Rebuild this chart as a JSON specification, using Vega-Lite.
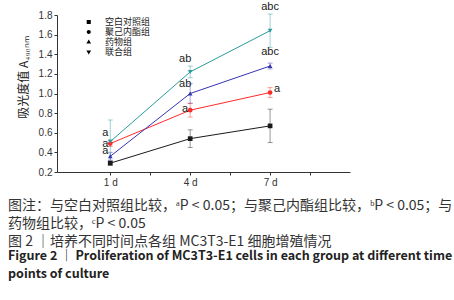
{
  "$schema": "https://vega.github.io/schema/vega-lite/v6.json",
  "width": 293,
  "height": 157,
  "autosize": {"type": "none"},
  "padding": {"left": 57, "top": 15, "right": 104, "bottom": 128},
  "background": "white",
  "datasets": {
    "main": [
      {"group": "空白对照组", "day": 1, "mean": 0.29, "sd": 0.02},
      {"group": "空白对照组", "day": 4, "mean": 0.54, "sd": 0.09},
      {"group": "空白对照组", "day": 7, "mean": 0.67, "sd": 0.17},
      {"group": "聚己内酯组", "day": 1, "mean": 0.49, "sd": 0.03},
      {"group": "聚己内酯组", "day": 4, "mean": 0.83, "sd": 0.07},
      {"group": "聚己内酯组", "day": 7, "mean": 1.01, "sd": 0.05},
      {"group": "药物组", "day": 1, "mean": 0.36, "sd": 0.04},
      {"group": "药物组", "day": 4, "mean": 1.0, "sd": 0.1},
      {"group": "药物组", "day": 7, "mean": 1.28, "sd": 0.03},
      {"group": "联合组", "day": 1, "mean": 0.51, "sd": 0.22},
      {"group": "联合组", "day": 4, "mean": 1.22, "sd": 0.06},
      {"group": "联合组", "day": 7, "mean": 1.64, "sd": 0.17}
    ],
    "labels": [
      {"group": "联合组", "day": 1, "pos": 0.6, "label": "a", "side": "left"},
      {"group": "聚己内酯组", "day": 1, "pos": 0.49, "label": "a", "side": "left"},
      {"group": "药物组", "day": 1, "pos": 0.41, "label": "a", "side": "left"},
      {"group": "联合组", "day": 4, "pos": 1.35, "label": "ab", "side": "left"},
      {"group": "药物组", "day": 4, "pos": 1.1, "label": "ab", "side": "left"},
      {"group": "聚己内酯组", "day": 4, "pos": 0.84, "label": "a", "side": "left"},
      {"group": "联合组", "day": 7, "pos": 1.885, "label": "abc", "side": "center"},
      {"group": "药物组", "day": 7, "pos": 1.42, "label": "abc", "side": "center"},
      {"group": "聚己内酯组", "day": 7, "pos": 1.05, "label": "a", "side": "right"}
    ]
  },
  "title": {
    "text": [
      "图注：与空白对照组比较，ᵃP < 0.05；与聚己内酯组比较，ᵇP < 0.05；与",
      "药物组比较，ᶜP < 0.05",
      "图 2 ｜培养不同时间点各组 MC3T3-E1 细胞增殖情况"
    ],
    "subtitle": [
      "Figure 2 ｜ Proliferation of MC3T3-E1 cells in each group at different time",
      "points of culture"
    ],
    "orient": "bottom",
    "anchor": "start",
    "frame": "group",
    "dx": -49,
    "offset": 12,
    "font": "Noto Sans CJK SC",
    "fontSize": 14,
    "fontWeight": "normal",
    "color": "#333333",
    "lineHeight": 18,
    "subtitleFont": "Noto Sans CJK SC",
    "subtitleFontSize": 12.5,
    "subtitleFontWeight": "bold",
    "subtitleColor": "#222222",
    "subtitleLineHeight": 18,
    "subtitlePadding": 1
  },
  "config": {
    "view": {"stroke": null},
    "axis": {
      "grid": false,
      "domainColor": "#333333",
      "tickColor": "#333333",
      "labelColor": "#333333",
      "labelFont": "Liberation Sans",
      "labelFontSize": 10,
      "tickSize": 3,
      "labelPadding": 2,
      "labelOverlap": false
    },
    "legend": {
      "orient": "none",
      "legendX": 38,
      "legendY": 2,
      "labelFont": "Noto Sans CJK SC",
      "labelFontSize": 9,
      "labelColor": "#222222",
      "symbolSize": 81,
      "symbolStrokeWidth": 1,
      "symbolOpacity": 1,
      "labelOffset": 0,
      "rowPadding": 0,
      "padding": 0,
      "title": null
    }
  },
  "resolve": {"scale": {"shape": "independent"}},
  "layer": [
    {
      "data": {"name": "main"},
      "mark": {"type": "line", "strokeWidth": 1},
      "encoding": {
        "x": {"field": "day", "type": "quantitative", "scale": {"domain": [-0.42, 9.26]}, "axis": {"values": [1, 2.5, 4, 5.5, 7, 8.5], "tickCount": 20, "labelExpr": "datum.value == 1 ? '1 d' : datum.value == 4 ? '4 d' : datum.value == 7 ? '7 d' : ''", "title": null}},
        "y": {"field": "mean", "type": "quantitative", "scale": {"domain": [0.2, 1.8]}, "title": "吸光度值 A₄₉₀ₙₘ", "axis": {"values": [0.2, 0.4, 0.6, 0.8, 1, 1.2, 1.4, 1.6, 1.8], "tickCount": 20, "labelExpr": "format(datum.value, '.1f')", "titleFont": "Noto Sans CJK SC", "titleFontSize": 12, "titleFontWeight": "normal", "titleColor": "#222222", "titlePadding": 8, "titleY": 62}},
        "color": {"field": "group", "type": "nominal", "scale": {"domain": ["空白对照组", "聚己内酯组", "药物组", "联合组"], "range": ["#1a1a1a", "#ff2a2a", "#3535b0", "#2b9b9b"]}, "legend": null}
      }
    },
    {
      "data": {"name": "main"},
      "mark": {"type": "errorbar", "ticks": {"size": 5}, "opacity": 0.45},
      "encoding": {
        "x": {"field": "day", "type": "quantitative"},
        "y": {"field": "mean", "type": "quantitative", "title": "吸光度值 A₄₉₀ₙₘ"},
        "yError": {"field": "sd"},
        "color": {"field": "group", "type": "nominal", "legend": null}
      }
    },
    {
      "data": {"name": "main"},
      "mark": {"type": "point", "filled": true, "opacity": 1, "size": 22},
      "encoding": {
        "x": {"field": "day", "type": "quantitative"},
        "y": {"field": "mean", "type": "quantitative", "title": "吸光度值 A₄₉₀ₙₘ"},
        "color": {"field": "group", "type": "nominal", "legend": null},
        "shape": {"field": "group", "type": "nominal", "scale": {"domain": ["空白对照组", "聚己内酯组", "药物组", "联合组"], "range": ["square", "circle", "triangle-up", "triangle-down"]}, "legend": null}
      }
    },
    {
      "data": {"name": "main"},
      "mark": {"type": "point", "size": 0, "opacity": 1, "strokeWidth": 1},
      "encoding": {
        "x": {"field": "day", "type": "quantitative"},
        "y": {"field": "mean", "type": "quantitative", "title": "吸光度值 A₄₉₀ₙₘ"},
        "fill": {"field": "group", "type": "nominal", "scale": {"domain": ["空白对照组", "聚己内酯组", "药物组", "联合组"], "range": ["#1a1a1a", "#ff2a2a", "#3535b0", "#2b9b9b"]}, "legend": {"symbolOpacity": 1, "symbolSize": 81}},
        "stroke": {"field": "group", "type": "nominal", "scale": {"domain": ["空白对照组", "聚己内酯组", "药物组", "联合组"], "range": ["#1a1a1a", "#ff2a2a", "#3535b0", "#2b9b9b"]}, "legend": {"symbolOpacity": 1, "symbolSize": 81}},
        "shape": {"field": "group", "type": "nominal", "scale": {"domain": ["空白对照组", "聚己内酯组", "药物组", "联合组"], "range": ["M-5,0H0.2M-2.95,-0.45H-2.05V0.45H-2.95Z", "M-5,0H0.2M-2.05,0A0.45,0.45 0 1,1 -2.95,0A0.45,0.45 0 1,1 -2.05,0Z", "M-5,0H0.2M-2.5,-0.55L-1.98,0.35H-3.02Z", "M-5,0H0.2M-2.5,0.55L-1.98,-0.35H-3.02Z"]}, "legend": {"symbolOpacity": 1, "symbolSize": 81}}
      }
    },
    {
      "data": {"name": "labels"},
      "transform": [{"filter": "datum.side == 'left'"}],
      "mark": {"type": "text", "font": "Liberation Sans", "fontSize": 11, "color": "#222222", "dx": -5, "align": "center", "baseline": "middle"},
      "encoding": {
        "x": {"field": "day", "type": "quantitative"},
        "y": {"field": "pos", "type": "quantitative", "title": "吸光度值 A₄₉₀ₙₘ"},
        "text": {"field": "label"}
      }
    },
    {
      "data": {"name": "labels"},
      "transform": [{"filter": "datum.side == 'center'"}],
      "mark": {"type": "text", "font": "Liberation Sans", "fontSize": 11, "color": "#222222", "dx": 0, "align": "center", "baseline": "middle"},
      "encoding": {
        "x": {"field": "day", "type": "quantitative"},
        "y": {"field": "pos", "type": "quantitative", "title": "吸光度值 A₄₉₀ₙₘ"},
        "text": {"field": "label"}
      }
    },
    {
      "data": {"name": "labels"},
      "transform": [{"filter": "datum.side == 'right'"}],
      "mark": {"type": "text", "font": "Liberation Sans", "fontSize": 11, "color": "#222222", "dx": 7, "align": "center", "baseline": "middle"},
      "encoding": {
        "x": {"field": "day", "type": "quantitative"},
        "y": {"field": "pos", "type": "quantitative", "title": "吸光度值 A₄₉₀ₙₘ"},
        "text": {"field": "label"}
      }
    }
  ]
}
